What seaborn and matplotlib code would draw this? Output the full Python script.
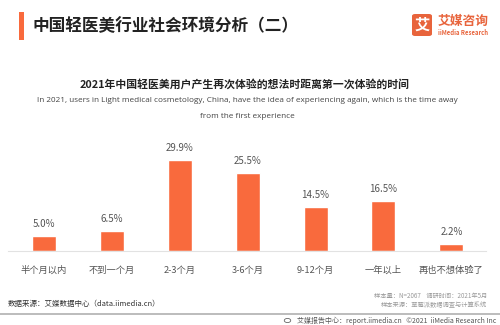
import matplotlib
matplotlib.use("Agg")
import matplotlib.pyplot as plt
from matplotlib.patches import Rectangle, FancyBboxPatch, Circle
import seaborn as sns
import pandas as pd

# Data
categories = ["半个月以内", "不到一个月", "2-3个月", "3-6个月", "9-12个月", "一年以上", "再也不想体验了"]
shares = [5.0, 6.5, 29.9, 25.5, 14.5, 16.5, 2.2]

header_title = "中国轻医美行业社会环境分析（二）"
chart_title = "2021年中国轻医美用户产生再次体验的想法时距离第一次体验的时间"
subtitle_lines = [
    "In 2021, users in Light medical cosmetology, China, have the idea of experiencing again, which is the time away",
    "from the first experience",
]
source_note = "数据来源：艾媒数据中心（data.iimedia.cn）"
sample_notes = ["样本量：N=2067    调研时间：2021年5月", "样本来源：草莓派数据调查与计算系统"]
footer_note = "艾媒报告中心：report.iimedia.cn   ©2021  iiMedia Research Inc"

ORANGE = "#F96A3D"
CJK = ["Noto Sans CJK SC", "DejaVu Sans"]

sns.set_theme(style="white")
plt.rcParams["font.family"] = CJK

df = pd.DataFrame({"category": categories, "share": shares})

fig = plt.figure(figsize=(5.0, 3.25), dpi=100)
fig.patch.set_facecolor("white")

ax = fig.add_axes([8 / 500, 74 / 325, 478 / 500, 0.3285])
sns.barplot(data=df, x="category", y="share", color=ORANGE, width=0.353,
            saturation=1, ax=ax)
ax.set_xlim(-0.53, 6.51)
ax.set_ylim(0, 35)
ax.set_xlabel("")
ax.set_ylabel("")
ax.set_yticks([])
for side in ["top", "right", "left"]:
    ax.spines[side].set_visible(False)
ax.spines["bottom"].set_color("#e2e2e2")
ax.spines["bottom"].set_linewidth(0.8)
ax.set_facecolor("none")
ax.tick_params(axis="x", length=0, pad=10.5, labelsize=6.7, labelcolor="#555555")
for lbl in ax.get_xticklabels():
    lbl.set_family(CJK)

for cont in ax.containers:
    ax.bar_label(cont, labels=[f"{v:.1f}%" for v in shares], padding=5,
                 fontsize=7.0, color="#555555")

# Header
fig.add_artist(Rectangle((19 / 500, 1 - 40 / 325), 4.5 / 500, 28 / 325,
                         transform=fig.transFigure, color=ORANGE, lw=0))
fig.text(32 / 500, 1 - 26 / 325, header_title, fontsize=12.0, color="#222222",
         fontweight="bold", va="center", ha="left", family=CJK)

# Logo
fig.add_artist(FancyBboxPatch((412 / 500, 1 - 36 / 325), 20 / 500, 22 / 325,
                              boxstyle="round,pad=0,rounding_size=0.006",
                              transform=fig.transFigure, color="#E8643C", lw=0))
fig.text(422 / 500, 1 - 25 / 325, "艾", fontsize=11, color="white",
         fontweight="bold", ha="center", va="center", family=CJK)
fig.text(438 / 500, 1 - 21 / 325, "艾媒咨询", fontsize=9.2, color="#E8643C",
         fontweight="bold", ha="left", va="center", family=CJK)
fig.text(438 / 500, 1 - 32.5 / 325, "iiMedia Research", fontsize=4.3,
         color="#E8643C", fontweight="bold", ha="left", va="center", family=CJK)

# Chart title and subtitle
fig.text(0.49, 1 - 84 / 325, chart_title, fontsize=7.8, color="#222222",
         fontweight="bold", ha="center", va="center", family=CJK)
fig.text(0.495, 1 - 101 / 325, subtitle_lines[0], fontsize=5.85, color="#444444",
         ha="center", va="center", family=["Open Sans", "DejaVu Sans"])
fig.text(0.495, 1 - 117 / 325, subtitle_lines[1], fontsize=5.85, color="#444444",
         ha="center", va="center", family=["Open Sans", "DejaVu Sans"])

# Footer
fig.text(8 / 500, 1 - 304 / 325, source_note, fontsize=5.4, color="#333333",
         ha="left", va="center", family=CJK)
fig.text(487 / 500, 1 - 296 / 325, sample_notes[0], fontsize=4.5, color="#999999",
         ha="right", va="center", family=CJK)
fig.text(487 / 500, 1 - 305 / 325, sample_notes[1], fontsize=4.5, color="#999999",
         ha="right", va="center", family=CJK)
fig.add_artist(Rectangle((0, 1 - 315 / 325), 1, 2 / 325,
                         transform=fig.transFigure, color="#bdbdbd", lw=0))
fig.text(496 / 500, 1 - 320.5 / 325, footer_note, fontsize=5.0, color="#555555",
         ha="right", va="center", family=CJK)
fig.add_artist(Circle((287.5 / 500, 1 - 320.5 / 325), 3.2 / 500,
                      transform=fig.transFigure, fill=False, ec="#666666", lw=0.6))

fig.savefig("out.png", dpi=100, facecolor="white")
